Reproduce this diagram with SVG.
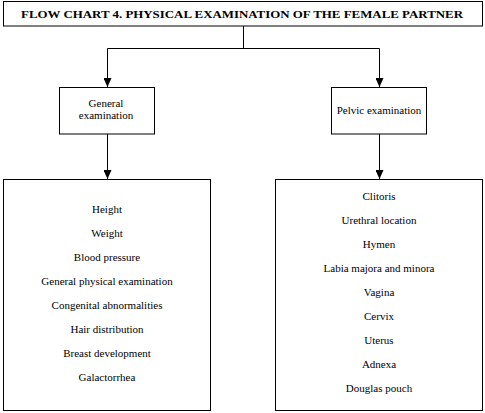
<svg xmlns="http://www.w3.org/2000/svg" width="485" height="413" viewBox="0 0 485 413">
<style>
.box{fill:#fff;stroke:#000;stroke-width:1}
.ln{fill:none;stroke:#000;stroke-width:1}
.t{font-family:'Liberation Serif','DejaVu Serif',serif;font-size:11px;fill:#000;text-anchor:middle}
.title{font-family:'Liberation Serif','DejaVu Serif',serif;font-size:10.5px;font-weight:bold;fill:#000;text-anchor:middle}
</style>
<defs>
<marker id="ah" markerWidth="9" markerHeight="8" refX="9" refY="4" orient="auto" markerUnits="userSpaceOnUse" viewBox="0 0 9 8">
<path d="M0,0 L9,4 L0,8 Z" fill="#000"/>
</marker>
</defs>
<rect width="485" height="413" fill="#fff"/>
<g id="connectors">
<path class="ln" d="M243.5,26 V48.5"/>
<path class="ln" d="M107.5,48.5 H379.5"/>
<path class="ln" d="M107.5,48.5 V87" marker-end="url(#ah)"/>
<path class="ln" d="M379.5,48.5 V87" marker-end="url(#ah)"/>
<path class="ln" d="M107.5,134 V179" marker-end="url(#ah)"/>
<path class="ln" d="M379.5,134 V179" marker-end="url(#ah)"/>
</g>
<g id="title">
<rect class="box" x="3.5" y="1.5" width="479" height="24.5"/>
<text class="title" x="242" y="18" textLength="442" lengthAdjust="spacingAndGlyphs">FLOW CHART 4. PHYSICAL EXAMINATION OF THE FEMALE PARTNER</text>
</g>
<g id="general">
<rect class="box" x="59.5" y="87.5" width="95" height="46.5"/>
<text class="t" x="106" y="107">General</text>
<text class="t" x="106" y="118.5">examination</text>
</g>
<g id="pelvic">
<rect class="box" x="331.5" y="87.5" width="95" height="46.5"/>
<text class="t" x="379" y="114">Pelvic examination</text>
</g>
<g id="general-list">
<rect class="box" x="3.5" y="179.5" width="207" height="231"/>
<text class="t" x="107" y="213">Height</text>
<text class="t" x="107" y="237">Weight</text>
<text class="t" x="107" y="261">Blood pressure</text>
<text class="t" x="107" y="285">General physical examination</text>
<text class="t" x="107" y="309">Congenital abnormalities</text>
<text class="t" x="107" y="333">Hair distribution</text>
<text class="t" x="107" y="357">Breast development</text>
<text class="t" x="107" y="381">Galactorrhea</text>
</g>
<g id="pelvic-list">
<rect class="box" x="275.5" y="179.5" width="207" height="231"/>
<text class="t" x="379" y="200">Clitoris</text>
<text class="t" x="379" y="224">Urethral location</text>
<text class="t" x="379" y="248">Hymen</text>
<text class="t" x="379" y="272">Labia majora and minora</text>
<text class="t" x="379" y="296">Vagina</text>
<text class="t" x="379" y="320">Cervix</text>
<text class="t" x="379" y="344">Uterus</text>
<text class="t" x="379" y="368">Adnexa</text>
<text class="t" x="379" y="392">Douglas pouch</text>
</g>
</svg>
